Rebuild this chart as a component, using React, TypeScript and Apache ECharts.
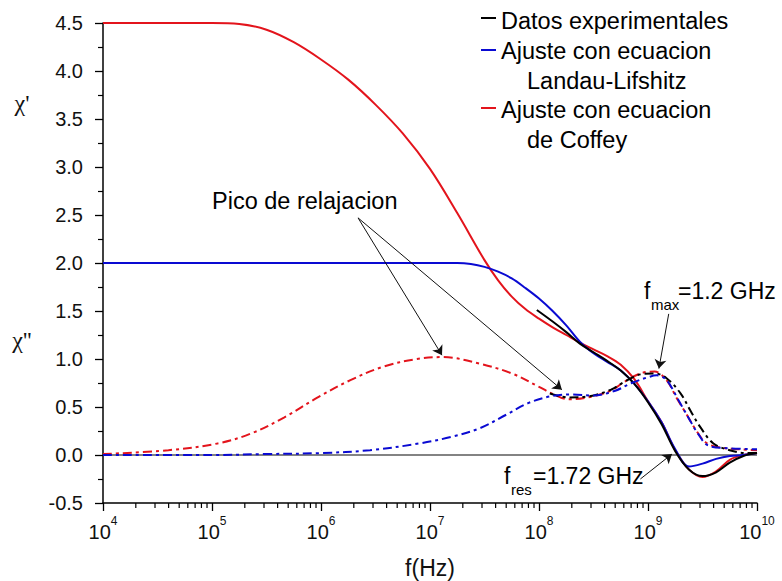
import React, { useEffect, useRef } from "react";
import * as echarts from "echarts";

const FONT = "'Liberation Sans', Arial, sans-serif";

// log10(f) positions and values
const coffeyReLogF = [4.0, 4.25, 4.5, 4.75, 5.0, 5.25, 5.5, 5.75, 6.0, 6.25, 6.5, 6.75, 7.0, 7.25, 7.5, 7.625, 7.75, 7.875, 8.0, 8.125, 8.25, 8.375, 8.5, 8.625, 8.75, 8.875, 9.0, 9.125, 9.25, 9.375, 9.5, 9.625, 9.75, 9.875, 10.0];
const coffeyReVal = [4.5, 4.5, 4.5, 4.5, 4.5, 4.49, 4.43, 4.3, 4.12, 3.91, 3.65, 3.35, 2.98, 2.52, 2.03, 1.82, 1.65, 1.52, 1.42, 1.33, 1.25, 1.17, 1.1, 1.03, 0.94, 0.79, 0.56, 0.34, 0.05, -0.15, -0.23, -0.17, -0.05, 0.0, 0.02];

const llReLogF = [4.0, 5.0, 6.0, 7.0, 7.25, 7.375, 7.5, 7.625, 7.75, 7.875, 8.0, 8.125, 8.25, 8.375, 8.5, 8.625, 8.75, 8.875, 9.0, 9.125, 9.25, 9.375, 9.5, 9.625, 9.75, 9.875, 10.0];
const llReVal = [2.0, 2.0, 2.0, 2.0, 2.0, 1.99, 1.96, 1.91, 1.84, 1.74, 1.63, 1.5, 1.35, 1.18, 1.06, 0.97, 0.88, 0.74, 0.56, 0.34, 0.06, -0.12, -0.09, -0.04, -0.01, 0.0, 0.02];

const expReLogF = [7.98, 8.125, 8.25, 8.375, 8.5, 8.625, 8.75, 8.875, 9.0, 9.125, 9.25, 9.375, 9.5, 9.625, 9.75, 9.875, 10.0];
const expReVal = [1.51, 1.39, 1.28, 1.16, 1.07, 0.98, 0.88, 0.74, 0.55, 0.32, 0.04, -0.15, -0.22, -0.18, -0.08, -0.01, 0.02];

const coffeyImLogF = [4.0, 4.6, 5.05, 5.35, 5.66, 5.97, 6.27, 6.57, 6.88, 7.12, 7.46, 7.75, 8.0, 8.12, 8.27, 8.45, 8.66, 8.78, 8.93, 9.06, 9.17, 9.26, 9.35, 9.44, 9.53, 9.65, 9.84, 10.0];
const coffeyImVal = [0.01, 0.05, 0.12, 0.22, 0.39, 0.6, 0.78, 0.92, 1.0, 1.02, 0.95, 0.85, 0.71, 0.64, 0.58, 0.6, 0.67, 0.76, 0.85, 0.87, 0.78, 0.6, 0.43, 0.26, 0.13, 0.08, 0.06, 0.05];

const expImLogF = [8.1, 8.27, 8.45, 8.66, 8.78, 8.93, 9.06, 9.17, 9.3, 9.39, 9.48, 9.6, 9.75, 9.9, 10.0];
const expImVal = [0.64, 0.6, 0.61, 0.68, 0.76, 0.84, 0.85, 0.8, 0.64, 0.46, 0.29, 0.12, 0.05, 0.02, 0.02];

const llImLogF = [4.0, 5.0, 5.5, 6.0, 6.45, 6.9, 7.2, 7.46, 7.7, 7.9, 8.1, 8.3, 8.5, 8.7, 8.85, 9.0, 9.08, 9.17, 9.28, 9.37, 9.46, 9.55, 9.75, 10.0];
const llImVal = [0.0, 0.0, 0.01, 0.02, 0.05, 0.12, 0.19, 0.28, 0.42, 0.54, 0.61, 0.63, 0.62, 0.67, 0.75, 0.81, 0.83, 0.78, 0.57, 0.39, 0.22, 0.1, 0.07, 0.06];

// annotation arrows: [logF start, value start, logF end, value end]
const arrows = [
  [6.34, 2.47, 7.11, 1.04],
  [6.34, 2.47, 8.21, 0.68],
  [9.19, 1.47, 9.1, 0.9],
  [8.93, -0.25, 9.22, 0.01],
];

const xMin = 1e4;
const xMax = 1e10;
const yMin = -0.5;
const yMax = 4.5;
const yStep = 0.5;
const minorMultipliers = [2, 3, 4, 5, 6, 7, 8, 9];
const minorDecades = [4, 5, 6, 7, 8, 9];

const BLACK = "#000000";
const BLUE = "#0a0ad2";
const RED = "#e3141c";

const toPairs = (lf: number[], v: number[]) => lf.map((l, i) => [Math.pow(10, l), v[i]]);

export default function App() {
  const ref = useRef<HTMLDivElement>(null);
  useEffect(() => {
    const chart = echarts.init(ref.current!, null, { renderer: "svg" });
    const dashDot = [9, 4, 3, 4];
    const mk = (name: string, lf: number[], v: number[], color: string, dash: boolean, extra: any = {}) => ({
      name,
      type: "line",
      data: toPairs(lf, v),
      showSymbol: false,
      symbol: "none",
      smooth: 0.35,
      silent: true,
      lineStyle: { color, width: 2, type: dash ? dashDot : "solid" },
      itemStyle: { color },
      z: 3,
      ...extra,
    });
    const minorData: number[][] = [];
    minorDecades.forEach((d) => minorMultipliers.forEach((m) => minorData.push([m * Math.pow(10, d), yMin])));

    const option: any = {
      animation: false,
      grid: { left: 103, right: 25, top: 23, bottom: 78, outerBoundsMode: "none", containLabel: false },
      xAxis: {
        type: "log",
        logBase: 10,
        min: xMin,
        max: xMax,
        splitNumber: 6,
        name: "f(Hz)",
        nameLocation: "middle",
        nameGap: 53,
        nameTextStyle: { fontFamily: FONT, fontSize: 23, color: "#111" },
        axisLine: { show: true, onZero: false, lineStyle: { color: "#000", width: 1.5 } },
        axisTick: { show: true, inside: false, length: 8, lineStyle: { color: "#000", width: 1.3 } },
        splitLine: { show: false },
        axisLabel: {
          margin: 12,
          formatter: (v: number) => `{b|10}{s|${Math.round(Math.log10(v))}}`,
          rich: {
            b: { fontFamily: FONT, fontSize: 20, color: "#111", verticalAlign: "bottom", lineHeight: 27 },
            s: { fontFamily: FONT, fontSize: 12, color: "#111", verticalAlign: "top", lineHeight: 27 },
          },
        },
      },
      yAxis: {
        type: "value",
        min: yMin,
        max: yMax,
        interval: yStep,
        axisLine: { show: true, onZero: false, lineStyle: { color: "#000", width: 1.5 } },
        axisTick: { show: true, inside: false, length: 8, lineStyle: { color: "#000", width: 1.3 } },
        minorTick: { show: true, splitNumber: 2, length: 5, lineStyle: { color: "#000", width: 1.2 } },
        splitLine: { show: false },
        axisLabel: {
          margin: 20,
          fontFamily: FONT,
          fontSize: 20,
          color: "#111",
          formatter: (v: number) => v.toFixed(1),
        },
      },
      series: [
        {
          name: "minor ticks",
          type: "custom",
          silent: true,
          clip: false,
          data: minorData,
          encode: { x: 0, y: 1 },
          renderItem: (params: any, api: any) => {
            const p = api.coord([api.value(0), api.value(1)]);
            return {
              type: "line",
              shape: { x1: p[0], y1: p[1], x2: p[0], y2: p[1] + 5 },
              style: { stroke: "#000", lineWidth: 1.2 },
            };
          },
          z: 5,
        },
        mk("Ajuste con ecuacion de Coffey (χ')", coffeyReLogF, coffeyReVal, RED, false, {
          markLine: {
            silent: true,
            symbol: "none",
            label: { show: false },
            lineStyle: { color: "#5a5a5a", width: 1.5, type: "solid" },
            data: [{ yAxis: 0 }],
            z: 1,
          },
        }),
        mk("Ajuste con ecuacion Landau-Lifshitz (χ')", llReLogF, llReVal, BLUE, false),
        mk("Datos experimentales (χ')", expReLogF, expReVal, BLACK, false),
        mk("Ajuste con ecuacion de Coffey (χ'')", coffeyImLogF, coffeyImVal, RED, true),
        mk("Datos experimentales (χ'')", expImLogF, expImVal, BLACK, true),
        mk("Ajuste con ecuacion Landau-Lifshitz (χ'')", llImLogF, llImVal, BLUE, true, {
          markLine: {
            silent: true,
            symbol: ["none", "arrow"],
            symbolSize: 9,
            label: { show: false },
            lineStyle: { color: "#111", width: 1, type: "solid" },
            data: arrows.map((a) => [
              { coord: [Math.pow(10, a[0]), a[1]] },
              { coord: [Math.pow(10, a[2]), a[3]] },
            ]),
            z: 6,
          },
        }),
      ],
      graphic: [
        // legend
        { type: "line", shape: { x1: 481, y1: 18, x2: 496, y2: 18 }, style: { stroke: BLACK, lineWidth: 2 } },
        { type: "line", shape: { x1: 481, y1: 50, x2: 496, y2: 50 }, style: { stroke: BLUE, lineWidth: 2 } },
        { type: "line", shape: { x1: 481, y1: 108, x2: 496, y2: 108 }, style: { stroke: RED, lineWidth: 2 } },
        ...[
          ["Datos experimentales", 501, 21],
          ["Ajuste con ecuacion", 501, 51],
          ["Landau-Lifshitz", 527, 81],
          ["Ajuste con ecuacion", 501, 110],
          ["de Coffey", 527, 140],
        ].map((t) => ({
          type: "text",
          x: t[1] as number,
          y: t[2] as number,
          style: { text: t[0] as string, fontFamily: FONT, fontSize: 23.5, fill: "#000", textAlign: "left", textVerticalAlign: "middle" },
        })),
        // axis symbols
        {
          type: "text", x: 22, y: 103,
          style: { text: "χ'", fontFamily: "'Liberation Serif', serif", fontSize: 24, fill: "#111", textAlign: "center", textVerticalAlign: "middle" },
        },
        {
          type: "text", x: 22, y: 340,
          style: { text: "χ''", fontFamily: "'Liberation Serif', serif", fontSize: 24, fill: "#111", textAlign: "center", textVerticalAlign: "middle" },
        },
        // annotations
        {
          type: "text", x: 212, y: 201,
          style: { text: "Pico de relajacion", fontFamily: FONT, fontSize: 23.5, fill: "#000", textAlign: "left", textVerticalAlign: "middle" },
        },
        { type: "text", x: 644, y: 291, style: { text: "f", fontFamily: FONT, fontSize: 23, fill: "#000", textAlign: "left", textVerticalAlign: "middle" } },
        { type: "text", x: 651, y: 304, style: { text: "max", fontFamily: FONT, fontSize: 15, fill: "#000", textAlign: "left", textVerticalAlign: "middle" } },
        { type: "text", x: 678, y: 291, style: { text: "=1.2 GHz", fontFamily: FONT, fontSize: 23, fill: "#000", textAlign: "left", textVerticalAlign: "middle" } },
        { type: "text", x: 504, y: 476, style: { text: "f", fontFamily: FONT, fontSize: 23, fill: "#000", textAlign: "left", textVerticalAlign: "middle" } },
        { type: "text", x: 511, y: 489, style: { text: "res", fontFamily: FONT, fontSize: 15, fill: "#000", textAlign: "left", textVerticalAlign: "middle" } },
        { type: "text", x: 533, y: 476, style: { text: "=1.72 GHz", fontFamily: FONT, fontSize: 23, fill: "#000", textAlign: "left", textVerticalAlign: "middle" } },
      ],
    };
    chart.setOption(option);
    return () => chart.dispose();
  }, []);
  return (
    <div
      ref={ref}
      style={{ position: "fixed", left: 0, top: 0, width: 782, height: 581, background: "#fff" }}
    />
  );
}
